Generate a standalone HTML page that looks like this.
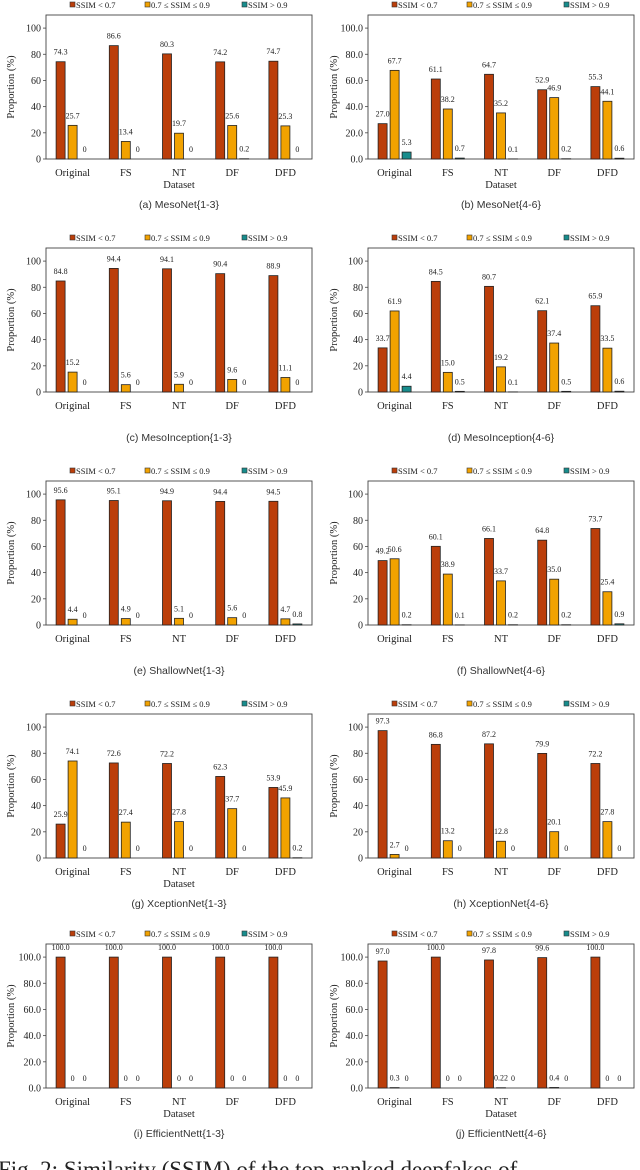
<!DOCTYPE html>
<html><head><meta charset="utf-8">
<style>
html,body{margin:0;padding:0;background:#fff;width:640px;height:1170px;overflow:hidden}
svg text{font-family:"Liberation Serif",serif;fill:#222}
.cap{font-family:"Liberation Sans","DejaVu Sans",sans-serif;font-size:10.5px;fill:#333}
</style></head>
<body>
<svg id="fig" width="640" height="1170" viewBox="0 0 640 1170" xmlns="http://www.w3.org/2000/svg">
<text x="-2" y="1177" style="font-size:23px">Fig. 2:  Similarity  (SSIM)  of  the  top-ranked  deepfakes  of</text>
</svg>
<script>
const categories=["Original","FS","NT","DF","DFD"];
const seriesNames=["SSIM < 0.7","0.7 \u2264 SSIM \u2264 0.9","SSIM > 0.9"];
const panelTitles=["(a) MesoNet{1-3}","(b) MesoNet{4-6}","(c) MesoInception{1-3}","(d) MesoInception{4-6}","(e) ShallowNet{1-3}","(f) ShallowNet{4-6}","(g) XceptionNet{1-3}","(h) XceptionNet{4-6}","(i) EfficientNett{1-3}","(j) EfficientNett{4-6}"];
const lowSSIM=[[74.3,86.6,80.3,74.2,74.7],[27.0,61.1,64.7,52.9,55.3],[84.8,94.4,94.1,90.4,88.9],[33.7,84.5,80.7,62.1,65.9],[95.6,95.1,94.9,94.4,94.5],[49.2,60.1,66.1,64.8,73.7],[25.9,72.6,72.2,62.3,53.9],[97.3,86.8,87.2,79.9,72.2],[100,100,100,100,100],[97.0,100.0,97.8,99.6,100.0]];
const midSSIM=[[25.7,13.4,19.7,25.6,25.3],[67.7,38.2,35.2,46.9,44.1],[15.2,5.6,5.9,9.6,11.1],[61.9,15.0,19.2,37.4,33.5],[4.4,4.9,5.1,5.6,4.7],[50.6,38.9,33.7,35.0,25.4],[74.1,27.4,27.8,37.7,45.9],[2.7,13.2,12.8,20.1,27.8],[0,0,0,0,0],[0.3,0,0.22,0.4,0]];
const highSSIM=[[0,0,0,0.2,0],[5.3,0.7,0.1,0.2,0.6],[0,0,0,0,0],[4.4,0.5,0.1,0.5,0.6],[0,0,0,0,0.8],[0.2,0.1,0.2,0.2,0.9],[0,0,0,0,0.2],[0,0,0,0,0],[0,0,0,0,0],[0,0,0,0,0]];
const yTicks=[0,20,40,60,80,100];
const tickDecimals=[0,1,0,0,0,0,0,0,1,1];
const showDataset=[true,true,false,false,false,false,true,false,true,true];
const colors=["#bb3e0a","#f2a200","#178c8c"];
const NS="http://www.w3.org/2000/svg";
const svg=document.getElementById('fig');
function mk(tag,attrs,parent,txt){const e=document.createElementNS(NS,tag);for(const k in attrs)e.setAttribute(k,attrs[k]);if(txt!==undefined)e.textContent=txt;(parent||svg).appendChild(e);return e;}
function fmt(v){if(v===0)return "0";return Math.abs(Math.round(v*10)-v*10)<1e-9?v.toFixed(1):String(v);}
const rowOff=[0,233,466,699,929];
for(let p=0;p<10;p++){
  const col=p%2,row=Math.floor(p/2);
  const ox=col?322:0, oy=rowOff[row];
  const g=mk('g',{transform:`translate(${ox},${oy})`});
  
  
  const L=46,R=312,T=15,B=159,maxV=110;
  const y=v=>B-(v/maxV)*(B-T);
  const bw=(R-L)/categories.length;
  const xc=i=>L+bw*(i+0.5);
  const lx=[70,145,242];
  seriesNames.forEach((s,k)=>{
    const r=mk('rect',{x:lx[k],y:2,width:5,height:5,fill:colors[k],stroke:'#333','stroke-width':0.6},g);
    
    
    const t=mk('text',{x:lx[k]+6,y:8,'font-size':8.5},g,s);
    
    
  });
  const fr=mk('rect',{x:L,y:T,width:R-L,height:B-T,fill:'none',stroke:'#444','stroke-width':0.9},g);
  
  
  yTicks.forEach(v=>{
    mk('line',{x1:L-3,x2:L,y1:y(v),y2:y(v),stroke:'#444','stroke-width':0.8},g);
    const t=mk('text',{x:L-5,y:y(v)+3.5,'font-size':10,'text-anchor':'end'},g,v.toFixed(tickDecimals[p]));
    
    
  });
  const yt=mk('text',{x:0,y:0,'font-size':10.5,'text-anchor':'middle',transform:`translate(${col?15:14},${(T+B)/2}) rotate(-90)`},g,'Proportion (%)');
  
  
  const data=[lowSSIM[p],midSSIM[p],highSSIM[p]];
  const offs=[-12,0,12],w=9;
  categories.forEach((c,i)=>{
    data.forEach((arr,k)=>{
      const v=arr[i],cx=xc(i)+offs[k];
      const r=mk('rect',{x:cx-w/2,y:y(v),width:w,height:Math.max(B-y(v),0),fill:colors[k],stroke:'#222','stroke-width':0.8},g);
      
      
      const t=mk('text',{x:cx,y:y(v)-7,'font-size':8,'text-anchor':'middle'},g,fmt(v));
      
      
    });
    const t=mk('text',{x:xc(i),y:B+17,'font-size':10.5,'text-anchor':'middle'},g,c);
    
    
  });
  if(showDataset[p]){
    const t=mk('text',{x:(L+R)/2,y:B+29,'font-size':10.5,'text-anchor':'middle'},g,'Dataset');
    
    
  }
  const ct=mk('text',{x:(L+R)/2,y:B+49,'text-anchor':'middle',class:'cap'},g,panelTitles[p]);
  
  
}
</script>
</body></html>
